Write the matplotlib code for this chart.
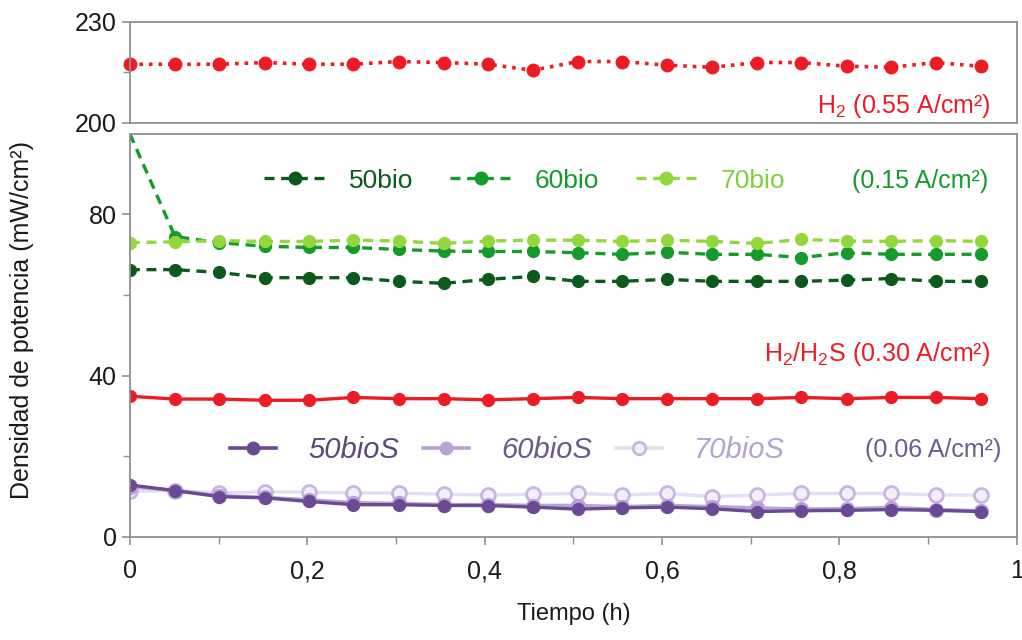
import matplotlib
matplotlib.use('Agg')
import matplotlib.pyplot as plt
from matplotlib.lines import Line2D
from matplotlib.ticker import FuncFormatter, MultipleLocator, FixedLocator

plt.rcParams['font.family'] = ['Liberation Sans', 'DejaVu Sans']
plt.rcParams['mathtext.default'] = 'regular'

# tiempo (h)
tiempo = [0.000, 0.051, 0.101, 0.152, 0.202, 0.252, 0.303, 0.354, 0.404, 0.454,
          0.505, 0.555, 0.606, 0.656, 0.707, 0.757, 0.808, 0.858, 0.909, 0.959]

# densidad de potencia (mW/cm2)
h2 = [217.4, 217.4, 217.4, 217.9, 217.4, 217.4, 218.2, 217.9, 217.4, 215.6,
      218.2, 218.2, 217.1, 216.5, 217.9, 217.9, 216.8, 216.5, 217.9, 216.8]
h2s = [34.9, 34.2, 34.2, 33.9, 33.9, 34.6, 34.3, 34.3, 34.0, 34.3,
       34.6, 34.3, 34.3, 34.3, 34.3, 34.6, 34.3, 34.6, 34.6, 34.3]
bio50 = [66.3, 66.3, 65.6, 64.3, 64.3, 64.3, 63.4, 62.9, 63.9, 64.6,
         63.4, 63.4, 63.9, 63.4, 63.4, 63.4, 63.7, 64.1, 63.4, 63.4]
bio60 = [100.0, 74.5, 73.0, 72.1, 71.8, 71.8, 71.3, 70.9, 70.8, 70.8,
         70.5, 70.1, 70.6, 70.1, 70.1, 69.3, 70.5, 70.1, 70.1, 70.1]
bio70 = [73.0, 73.2, 73.5, 73.3, 73.3, 73.6, 73.4, 72.8, 73.4, 73.6,
         73.6, 73.3, 73.6, 73.3, 72.8, 73.8, 73.4, 73.3, 73.5, 73.3]
bios50 = [12.9, 11.5, 10.0, 9.7, 8.8, 8.0, 8.0, 7.8, 7.8, 7.4,
          6.9, 7.2, 7.4, 7.0, 6.3, 6.5, 6.6, 6.8, 6.6, 6.3]
bios60 = [12.5, 11.5, 10.2, 9.8, 9.2, 8.5, 8.3, 8.0, 8.0, 7.8,
          7.8, 7.5, 7.8, 7.5, 7.2, 6.9, 7.0, 7.3, 6.8, 6.5]
bios70 = [11.3, 11.5, 10.9, 11.2, 11.1, 10.9, 10.9, 10.6, 10.4, 10.6,
          10.8, 10.4, 10.8, 10.0, 10.4, 10.8, 10.8, 10.8, 10.4, 10.4]

rojo = '#ec1c24'
verdes = ['#0b5a1c', '#159a2c', '#92d83c']
morados = ['#6a4b93', '#b8a2d6', '#e6dcf3']
gris = '#8f8f8f'

fig = plt.figure(figsize=(10.22, 6.40), dpi=100)
ax_top = fig.add_axes([0.127, 0.808, 0.868, 0.158])
ax = fig.add_axes([0.127, 0.161, 0.868, 0.630])

for a in (ax_top, ax):
    for s in a.spines.values():
        s.set_color(gris)
        s.set_linewidth(1.3)
    a.tick_params(colors=gris, labelcolor='#1a1a1a', labelsize=18,
                  direction='out', length=6, width=1.2)
    a.tick_params(which='minor', colors=gris, direction='out', length=5, width=1.0)
    a.set_xlim(0, 1)

# panel superior: H2
ax_top.plot(tiempo, h2, ':', color=rojo, lw=2.6, marker='o', ms=9, clip_on=False)
ax_top.set_ylim(200, 230)
ax_top.yaxis.set_major_locator(FixedLocator([200, 230]))
ax_top.yaxis.set_minor_locator(FixedLocator([215]))
ax_top.set_xticks([])
ax_top.text(0.97, 0.17, 'H$_2$ (0.55 A/cm²)', transform=ax_top.transAxes,
            ha='right', va='center', fontsize=18, color=rojo)

# panel inferior
ax.set_ylim(0, 100)
ax.yaxis.set_major_locator(FixedLocator([0, 40, 80]))
ax.yaxis.set_minor_locator(FixedLocator([20, 60]))
ax.xaxis.set_major_locator(MultipleLocator(0.2))
ax.xaxis.set_minor_locator(MultipleLocator(0.1))
ax.xaxis.set_major_formatter(FuncFormatter(
    lambda v, p: '0' if v == 0 else ('1' if abs(v - 1) < 1e-9 else f'{v:.1f}'.replace('.', ','))))
ax.tick_params(axis='x', pad=10)

ax.plot(tiempo, bio50, '--', color=verdes[0], lw=2.4, marker='o', ms=8.5, dashes=(3, 2))
ax.plot(tiempo, bio60, '--', color=verdes[1], lw=2.4, marker='o', ms=8.5, dashes=(3, 2),
        markevery=list(range(1, len(tiempo))))
ax.plot(tiempo, bio70, '--', color=verdes[2], lw=2.4, marker='o', ms=8.5, dashes=(3, 2))

ax.plot(tiempo, h2s, '-', color=rojo, lw=2.4, marker='o', ms=8.5)

ax.plot(tiempo, bios70, '-', color=morados[2], lw=2.4, marker='o', ms=10,
        mfc='#f3eefa', mec='#c7b6e2', mew=2)
ax.plot(tiempo, bios60, '-', color=morados[1], lw=2.6, marker='o', ms=10)
ax.plot(tiempo, bios50, '-', color=morados[0], lw=2.4, marker='o', ms=8.5)

ax.text(0.97, 0.455, 'H$_2$/H$_2$S (0.30 A/cm²)', transform=ax.transAxes,
        ha='right', va='center', fontsize=18, color=rojo)

# leyenda verde
h_verde = [Line2D([], [], ls='--', dashes=(3, 2), color=c, lw=2.4, marker='o', ms=9)
           for c in verdes]
leg1 = ax.legend(h_verde, ['50bio', '60bio', '70bio'], ncol=3, frameon=False,
                 loc='center left', bbox_to_anchor=(0.125, 0.884), fontsize=19,
                 labelcolor=[verdes[0], verdes[1], '#7fcf3a'], handlelength=2.3,
                 columnspacing=1.4, handletextpad=0.9)
ax.add_artist(leg1)
ax.text(0.968, 0.884, '(0.15 A/cm²)', transform=ax.transAxes,
        ha='right', va='center', fontsize=18, color=verdes[1])

# leyenda morada
h_morado = [Line2D([], [], ls='-', color=morados[0], lw=2.6, marker='o', ms=9),
            Line2D([], [], ls='-', color=morados[1], lw=2.6, marker='o', ms=9),
            Line2D([], [], ls='-', color=morados[2], lw=2.6, marker='o', ms=9,
                   mfc='#f3eefa', mec='#c7b6e2', mew=2)]
ax.legend(h_morado, ['50bioS', '60bioS', '70bioS'], ncol=3, frameon=False,
          loc='center left', bbox_to_anchor=(0.083, 0.215),
          prop={'style': 'italic', 'size': 21},
          labelcolor=['#5b4a78', '#6a5a88', '#b3a5cc'], handlelength=1.6,
          columnspacing=0.8, handletextpad=1.1)
ax.text(0.983, 0.215, '(0.06 A/cm²)', transform=ax.transAxes,
        ha='right', va='center', fontsize=18, color='#6d5a90')

fig.text(0.022, 0.50, 'Densidad de potencia (mW/cm²)', rotation=90,
         ha='center', va='center', fontsize=18, color='#1a1a1a')
ax.set_xlabel('Tiempo (h)', fontsize=17, color='#1a1a1a', labelpad=14)

fig.savefig('out.png', dpi=100)
